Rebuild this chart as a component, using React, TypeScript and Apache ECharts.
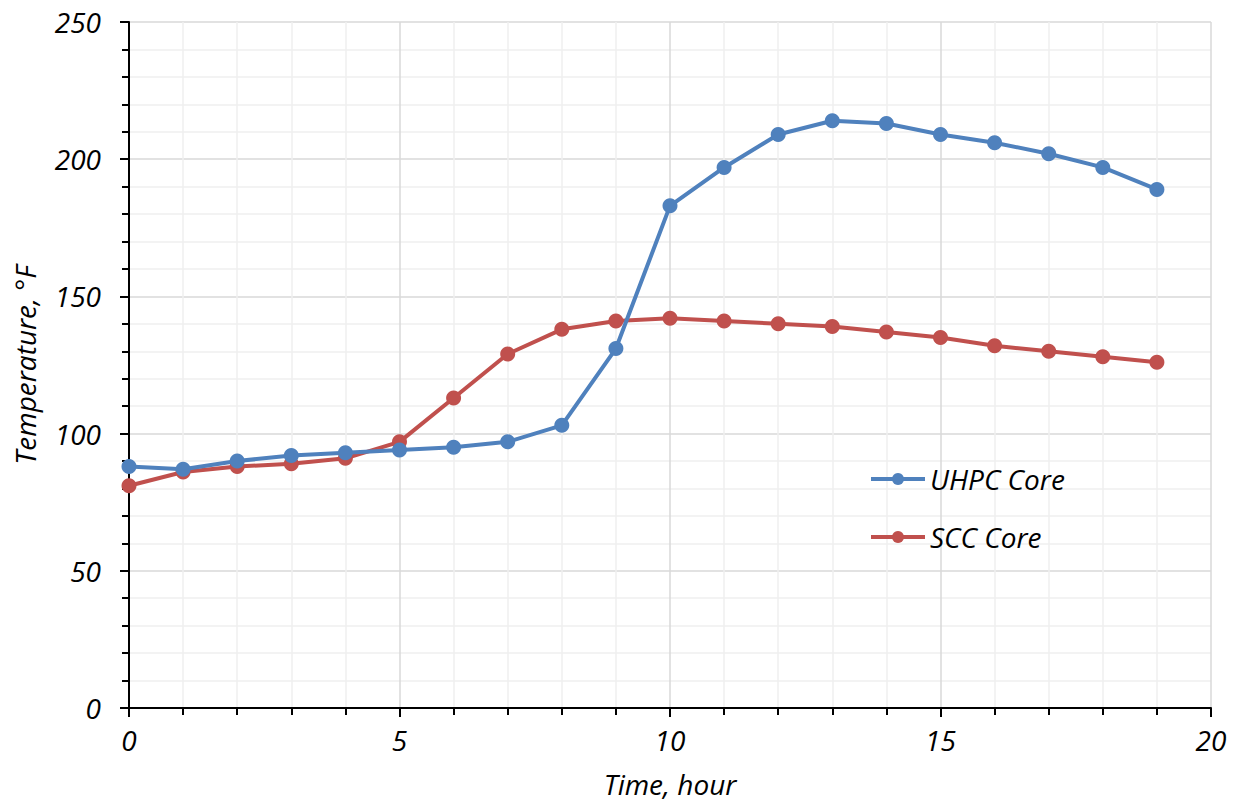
import React, { useEffect, useRef } from "react";
import * as echarts from "echarts";

const hours = [0, 1, 2, 3, 4, 5, 6, 7, 8, 9, 10, 11, 12, 13, 14, 15, 16, 17, 18, 19];
const uhpcCore = [88, 87, 90, 92, 93, 94, 95, 97, 103, 131, 183, 197, 209, 214, 213, 209, 206, 202, 197, 189];
const sccCore = [81, 86, 88, 89, 91, 97, 113, 129, 138, 141, 142, 141, 140, 139, 137, 135, 132, 130, 128, 126];
const seriesNames = ["UHPC Core", "SCC Core"];
const colors = ["#4F81BD", "#C0504D"];

const font = "'Open Sans', 'Noto Sans', sans-serif";

export default function App() {
  const ref = useRef<HTMLDivElement>(null);
  useEffect(() => {
    if (!ref.current) return;
    const chart = echarts.init(ref.current, undefined, { renderer: "svg" });
    const mk = (vals: number[]) => hours.map((h, i) => [h, vals[i]]);
    chart.setOption({
      animation: false,
      backgroundColor: "#ffffff",
      textStyle: { fontFamily: font },
      grid: { left: 129, right: 26, top: 22, bottom: 93 },
      legend: {
        orient: "vertical",
        left: 864,
        top: 460,
        itemGap: 30,
        itemWidth: 54,
        itemHeight: 15,
        lineStyle: { width: 4 },
        textStyle: { fontSize: 28, fontStyle: "italic", color: "#000", fontFamily: font },
        data: seriesNames,
      },
      xAxis: {
        type: "value",
        min: 0,
        max: 20,
        interval: 5,
        name: "Time, hour",
        nameLocation: "middle",
        nameGap: 62,
        nameTextStyle: { fontSize: 28, fontStyle: "italic", color: "#000", fontFamily: font },
        axisLine: { show: true, lineStyle: { color: "#000", width: 2 } },
        axisTick: { show: true, length: 9, lineStyle: { color: "#000", width: 2 } },
        minorTick: { show: true, splitNumber: 5, length: 7, lineStyle: { color: "#000", width: 2 } },
        axisLabel: { fontSize: 28, fontStyle: "italic", color: "#000", margin: 18, fontFamily: font },
        splitLine: { show: true, lineStyle: { color: "#d9d9d9", width: 1.5 } },
        minorSplitLine: { show: true, lineStyle: { color: "#efefef", width: 1.5 } },
      },
      yAxis: {
        type: "value",
        min: 0,
        max: 250,
        interval: 50,
        name: "Temperature, °F",
        nameLocation: "middle",
        nameGap: 90,
        nameRotate: 90,
        nameTextStyle: { fontSize: 28, fontStyle: "italic", color: "#000", fontFamily: font },
        axisLine: { show: true, lineStyle: { color: "#000", width: 2 } },
        axisTick: { show: true, length: 9, lineStyle: { color: "#000", width: 2 } },
        minorTick: { show: true, splitNumber: 5, length: 7, lineStyle: { color: "#000", width: 2 } },
        axisLabel: { fontSize: 28, fontStyle: "italic", color: "#000", margin: 28, fontFamily: font },
        splitLine: { show: true, lineStyle: { color: "#d9d9d9", width: 1.5 } },
        minorSplitLine: { show: true, lineStyle: { color: "#efefef", width: 1.5 } },
      },
      series: [
        {
          name: seriesNames[0],
          type: "line",
          data: mk(uhpcCore),
          symbol: "circle",
          symbolSize: 15,
          itemStyle: { color: colors[0] },
          lineStyle: { color: colors[0], width: 4 },
          z: 3,
        },
        {
          name: seriesNames[1],
          type: "line",
          data: mk(sccCore),
          symbol: "circle",
          symbolSize: 15,
          itemStyle: { color: colors[1] },
          lineStyle: { color: colors[1], width: 4 },
          z: 2,
        },
      ],
    });
    return () => chart.dispose();
  }, []);
  return (
    <div
      ref={ref}
      style={{ position: "absolute", left: 0, top: 0, width: 1237, height: 803 }}
    />
  );
}
